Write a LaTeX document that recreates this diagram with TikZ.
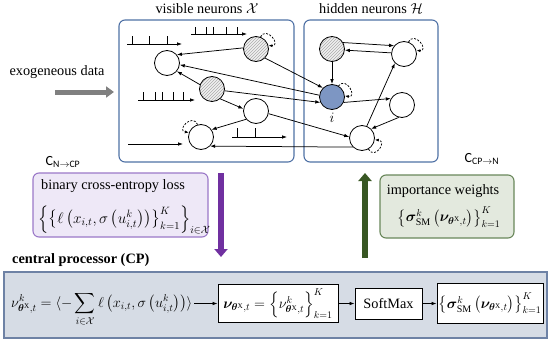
\documentclass[tikz,border=0pt]{standalone}
\usepackage{amsmath,bm}
\usepackage{fontspec}
\setmainfont{Liberation Serif}
\newfontfamily\calib{Carlito}
\usetikzlibrary{arrows.meta,patterns,calc}
\definecolor{netblue}{RGB}{79,113,165}
\definecolor{nodeblue}{RGB}{125,150,195}
\definecolor{purpA}{RGB}{112,48,160}
\definecolor{purpB}{RGB}{155,120,200}
\definecolor{purpF}{RGB}{238,232,247}
\definecolor{grnA}{RGB}{56,87,35}
\definecolor{grnB}{RGB}{105,135,90}
\definecolor{grnF}{RGB}{227,233,222}
\definecolor{cpF}{RGB}{214,220,229}
\definecolor{cpB}{RGB}{110,130,165}
\definecolor{exgray}{RGB}{128,128,128}
\begin{document}
\begin{tikzpicture}[x=1pt,y=1pt,font=\fontsize{14.3}{17}\selectfont,
  nbase/.style={circle,draw,line width=0.8pt,minimum size=25pt,inner sep=0pt},
  neuron/.style={nbase,fill=white},
  hatched/.style={nbase,preaction={fill=gray!12},pattern=north east lines,pattern color=gray!65},
  target/.style={nbase,fill=nodeblue},
  arr/.style={line width=0.75pt,-{Latex[length=5pt,width=3.6pt]}},
  loopst/.style={line width=0.75pt,dash pattern=on 2pt off 1.5pt,-{Latex[length=4pt,width=3pt]}},
  spike/.style={line width=0.75pt},
  netbox/.style={draw=netblue,line width=1.1pt,rounded corners=6pt},
  fbox/.style={draw,fill=white,line width=0.9pt,inner sep=1pt},
  bigarrow/.style={line width=6pt,-{Triangle[length=8pt,width=13pt]}},
]
\useasboundingbox (0,0) rectangle (548,-345);
% network boxes
\draw[netbox] (119,-20) rectangle (294,-162);
\draw[netbox] (304,-20) rectangle (438,-162);
\node (vislab) at (207,-9) {visible neurons $\mathcal{X}$};
\node (hidlab) at (371,-9) {hidden neurons $\mathcal{H}$};
% exogeneous data
\node (exo) at (57,-72) {exogeneous data};
\coordinate (exs) at (55,-92);
\coordinate (exe) at (114,-92);
\draw[line width=5pt,exgray,-{Triangle[length=8pt,width=11pt]}] (exs) -- (exe);
% neurons
\node[neuron]  (A) at (167,-63) {};
\node[hatched] (B) at (256,-49) {};
\node[hatched] (C) at (212,-89) {};
\node[neuron]  (D) at (256,-111) {};
\node[neuron]  (E) at (201,-137) {};
\node[hatched] (F) at (332,-49) {};
\node[neuron]  (G) at (404,-54) {};
\node[target]  (H) at (332,-97) {};
\node[neuron]  (J) at (402,-105) {};
\node[neuron]  (K) at (362,-138) {};
\node[inner sep=0pt] (ilab) at (332,-118) {$i$};
% spike trains
\coordinate (t1s) at (127,-44); \coordinate (t1e) at (182,-44);
\draw[arr] (t1s) -- (t1e);
\foreach \x in {132,149,167} \draw[spike] (\x,-44) -- (\x,-36);
\coordinate (t2s) at (191,-34); \coordinate (t2e) at (247,-34);
\draw[arr] (t2s) -- (t2e);
\foreach \x in {195,206,213,226,237} \draw[spike] (\x,-34) -- (\x,-27);
\coordinate (t3s) at (138,-100); \coordinate (t3e) at (195,-100);
\draw[arr] (t3s) -- (t3e);
\foreach \x in {143,155,162,173,183} \draw[spike] (\x,-100) -- (\x,-92);
\coordinate (t4s) at (128,-144); \coordinate (t4e) at (183,-144);
\draw[arr] (t4s) -- (t4e);
\coordinate (t5s) at (232,-137); \coordinate (t5e) at (287,-137);
\draw[arr] (t5s) -- (t5e);
\foreach \x in {237,255} \draw[spike] (\x,-137) -- (\x,-128);
% edges
\draw[arr] (B.175) -- (A.40);
\draw[arr] (H.172) -- (A.-8);
\draw[arr] (B.-45) -- (H.135);
\draw[arr] (C.-8) -- (H.205);
\draw[arr] (D.-12) -- (K.175);
\draw[arr] (K.225) -- (E.-45);
\draw[arr] (C.160) -- (A.-40);
\draw[arr] (C.-50) -- (D.170);
\draw[arr] (D.220) -- (E.35);
\draw[arr] (F.30) -- (G.140);
\draw[arr] (G.175) -- (F.-5);
\draw[arr] (F) -- (H);
\draw[arr] (H.-25) -- (J.150);
\draw[arr] (J.255) -- (K.45);
\draw[arr] (K.68) -- (G.225);
% self loops
\draw[loopst] (B.70) to[out=60,in=0,distance=13pt] (B.15);
\draw[loopst] (G.70) to[out=60,in=0,distance=13pt] (G.15);
\draw[loopst] (H.60) to[out=50,in=-10,distance=13pt] (H.5);
\draw[loopst] (K.-60) to[out=-60,in=-5,distance=13pt] (K.-8);
\draw[loopst] (E.105) to[out=115,in=170,distance=13pt] (E.160);
% channel labels
\node[font=\calib\fontsize{14}{16}\selectfont] (cn) at (63,-162) {C\textsubscript{N$\to$CP}};
\node[font=\calib\fontsize{14}{16}\selectfont] (cc) at (482,-159) {C\textsubscript{CP$\to$N}};
% loss box
\node[draw=purpB,fill=purpF,rounded corners=6pt,line width=1.1pt,minimum width=175pt,minimum height=64pt,inner sep=0pt] (lossbox) at (120.5,-205) {};
\node[anchor=west,inner sep=0pt] (losst) at (41,-186) {binary cross-entropy loss};
\node[anchor=west,inner sep=0pt] (lossf) at (38,-220) {\scalebox{1.06}{$\left\{\left\{\ell\left(x_{i,t},\sigma\left(u^{k}_{i,t}\right)\right)\right\}_{k=1}^{K}\right\}_{i\in\mathcal{X}}$}};
% importance box
\node[draw=grnB,fill=grnF,rounded corners=6pt,line width=1.1pt,minimum width=134pt,minimum height=63pt,inner sep=0pt] (impbox) at (447,-206.5) {};
\node[inner sep=0pt] (impt) at (443,-191) {importance weights};
\node[inner sep=0pt] (impf) at (449,-217) {$\left\{\boldsymbol{\sigma}^{k}_{\mathrm{SM}}\left(\boldsymbol{\nu}_{\boldsymbol{\theta}^{\mathrm{X}},t}\right)\right\}_{k=1}^{K}$};
% big arrows
\coordinate (pa1) at (221,-173); \coordinate (pa2) at (221,-257);
\draw[bigarrow,purpA] (pa1) -- (pa2);
\coordinate (ga1) at (365,-258); \coordinate (ga2) at (365,-173);
\draw[bigarrow,grnA] (ga1) -- (ga2);
% central processor
\node[anchor=west,inner sep=0pt,font=\bfseries\fontsize{14.3}{17}\selectfont] (cplab) at (12,-260) {central processor (CP)};
\node[draw=cpB,fill=cpF,line width=1.5pt,minimum width=543pt,minimum height=66pt,inner sep=0pt] (cpbox) at (275.5,-305) {};
\node[anchor=base west,inner sep=2pt] (cpf) at (9,-307.5) {$\displaystyle \nu^{k}_{\boldsymbol{\theta}^{\mathrm{X}},t} = \langle -\sum_{i\in\mathcal{X}} \ell\left(x_{i,t},\sigma\left(u^{k}_{i,t}\right)\right)\rangle$};
\node[fbox,minimum width=120pt,minimum height=38pt] (nub) at (278,-303.5) {$\boldsymbol{\nu}_{\boldsymbol{\theta}^{\mathrm{X}},t}=\left\{\nu^{k}_{\boldsymbol{\theta}^{\mathrm{X}},t}\right\}_{k=1}^{K}$};
\node[fbox,minimum width=67pt,minimum height=31pt] (smx) at (388.5,-303.5) {SoftMax};
\node[fbox,minimum width=106pt,minimum height=40pt] (sig) at (490,-303.5) {$\left\{\boldsymbol{\sigma}^{k}_{\mathrm{SM}}\left(\boldsymbol{\nu}_{\boldsymbol{\theta}^{\mathrm{X}},t}\right)\right\}_{k=1}^{K}$};
\draw[arr] (cpf.east |- nub.west) -- (nub.west);
\draw[arr] (nub.east) -- (smx.west);
\draw[arr] (smx.east) -- (sig.west);
\end{tikzpicture}
\end{document}
